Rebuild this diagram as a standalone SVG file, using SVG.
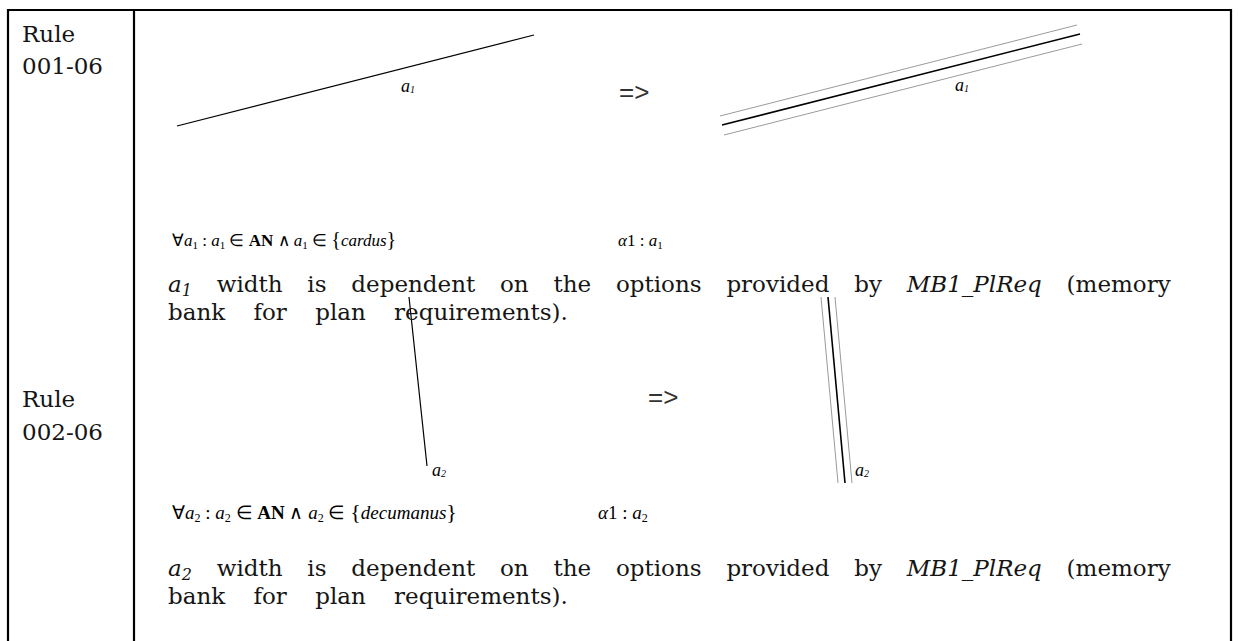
<svg xmlns="http://www.w3.org/2000/svg" width="1238" height="641" viewBox="0 0 1238 641">
<style>
.bd{stroke:#000;stroke-width:2.2;fill:none}
.ln{stroke:#000;stroke-width:1.2;fill:none}
.lb{stroke:#000;stroke-width:1.6;fill:none}
.lg{stroke:#9a9a9a;stroke-width:1;fill:none}
.rule{font-family:"DejaVu Serif","Liberation Serif",serif;font-size:23px;fill:#151515}
.para{font-family:"DejaVu Serif","Liberation Serif",serif;font-size:23px;fill:#151515}
.w1{word-spacing:17.5px}
.w2{word-spacing:21px}
.it{font-style:italic}
.fm{font-family:"Liberation Serif","Times New Roman",serif;font-size:17px;fill:#000}
.fm2{font-family:"Liberation Serif","Times New Roman",serif;font-size:19px;fill:#000}
.lbl{font-family:"Liberation Serif","Times New Roman",serif;font-size:18px;font-style:italic;fill:#000}
.arr{font-family:"Liberation Sans",Arial,sans-serif;font-size:26px;fill:#333}
</style>
<g id="table">
<line class="bd" x1="8" y1="10" x2="1231" y2="10"/>
<line class="bd" x1="8" y1="9" x2="8" y2="641"/>
<line class="bd" x1="134" y1="10" x2="134" y2="641"/>
<line class="bd" x1="1231" y1="9" x2="1231" y2="641"/>
</g>
<g id="rule1">
<text class="rule" x="22" y="42">Rule</text>
<text class="rule" x="22" y="74">001-06</text>
</g>
<g id="rule2">
<text class="rule" x="22" y="407">Rule</text>
<text class="rule" x="22" y="440">002-06</text>
</g>
<g id="connectors">
<line class="ln" x1="177" y1="126" x2="534" y2="35"/>
<line class="lg" x1="720" y1="116" x2="1077" y2="25"/>
<line class="lb" x1="722" y1="125" x2="1080" y2="34"/>
<line class="lg" x1="724" y1="135" x2="1082" y2="44"/>
<line class="ln" x1="409" y1="297" x2="427" y2="466"/>
<line class="lg" x1="821" y1="297" x2="838" y2="483"/>
<line class="lb" x1="828" y1="297" x2="845" y2="483"/>
<line class="lg" x1="835" y1="297" x2="852" y2="483"/>
</g>
<g id="labels">
<text class="lbl" x="401" y="92">a<tspan font-size="10" dy="1">1</tspan></text>
<text class="lbl" x="955" y="91">a<tspan font-size="10" dy="1">1</tspan></text>
<text class="lbl" x="432" y="476">a<tspan font-size="10" dy="1">2</tspan></text>
<text class="lbl" x="855" y="476">a<tspan font-size="10" dy="1">2</tspan></text>
<text class="arr" x="619" y="101">=&gt;</text>
<text class="arr" x="648" y="406">=&gt;</text>
</g>
<g id="formula1">
<text class="fm" x="172" y="246">∀<tspan class="it">a</tspan><tspan font-size="11" dy="3">1</tspan><tspan dy="-3"> : </tspan><tspan class="it">a</tspan><tspan font-size="11" dy="3">1</tspan><tspan dy="-3"> ∈ </tspan><tspan font-weight="bold">AN</tspan> ∧ <tspan class="it">a</tspan><tspan font-size="11" dy="3">1</tspan><tspan dy="-3"> ∈ </tspan><tspan font-size="20">{</tspan><tspan class="it">cardus</tspan><tspan font-size="20">}</tspan></text>
<text class="fm" x="618" y="246"><tspan class="it">α</tspan>1 : <tspan class="it">a</tspan><tspan font-size="11" dy="3">1</tspan></text>
</g>
<g id="para1">
<text class="para w1" x="168" y="292"><tspan class="it">a</tspan><tspan class="it" font-size="16" dy="4">1</tspan><tspan dy="-4"> width is dependent on the options provided by </tspan><tspan class="it">MB1_PlReq</tspan> (memory</text>
<text class="para w2" x="168" y="320">bank for plan requirements).</text>
</g>
<g id="formula2">
<text class="fm2" x="172" y="519">∀<tspan class="it">a</tspan><tspan font-size="12" dy="3">2</tspan><tspan dy="-3"> : </tspan><tspan class="it">a</tspan><tspan font-size="12" dy="3">2</tspan><tspan dy="-3"> ∈ </tspan><tspan font-weight="bold">AN</tspan> ∧ <tspan class="it">a</tspan><tspan font-size="12" dy="3">2</tspan><tspan dy="-3"> ∈ </tspan><tspan font-size="22">{</tspan><tspan class="it">decumanus</tspan><tspan font-size="22">}</tspan></text>
<text class="fm2" x="598" y="519"><tspan class="it">α</tspan>1 : <tspan class="it">a</tspan><tspan font-size="12" dy="3">2</tspan></text>
</g>
<g id="para2">
<text class="para w1" x="168" y="576"><tspan class="it">a</tspan><tspan class="it" font-size="16" dy="4">2</tspan><tspan dy="-4"> width is dependent on the options provided by </tspan><tspan class="it">MB1_PlReq</tspan> (memory</text>
<text class="para w2" x="168" y="604">bank for plan requirements).</text>
</g>
</svg>
